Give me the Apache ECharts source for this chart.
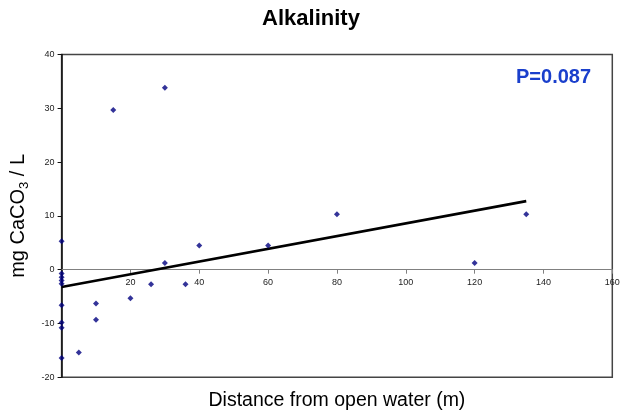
<!DOCTYPE html>
<html>
<head>
<meta charset="utf-8">
<script src="https://cdn.jsdelivr.net/npm/echarts@6/dist/echarts.min.js"></script>
<style>html,body{margin:0;padding:0;background:#fff}#c{width:622px;height:416px}</style>
</head>
<body>
<div id="c"></div>
<script>
var distance = [0, 0, 0, 0, 0, 0, 0, 0, 0, 5, 10, 10, 15, 20, 26, 30, 30, 36, 40, 60, 80, 120, 135];
var alkalinity = [5.3, -0.7, -1.4, -2.0, -2.6, -6.6, -9.8, -10.8, -16.4, -15.4, -6.3, -9.3, 29.7, -5.3, -2.7, 1.25, 33.8, -2.7, 4.5, 4.5, 10.3, 1.25, 10.3];
var trendX = [0, 135];
var trendY = [-3.2, 12.75];
var xTicks = [0, 20, 40, 60, 80, 100, 120, 140, 160];
var yTicks = [-20, -10, 0, 10, 20, 30, 40];
var pLabel = 'P=0.087';

var font = 'Liberation Sans, Arial, sans-serif';
var chart = echarts.init(document.getElementById('c'), null, {renderer: 'canvas'});
var pts = distance.map(function (d, i) { return [d, alkalinity[i]]; });
var trend = trendX.map(function (d, i) { return [d, trendY[i]]; });
var gridTop = 54.5, gridBottom = 38.7, H = 416;
var yMin = yTicks[0], yMax = yTicks[yTicks.length - 1];
var plotH = H - gridTop - gridBottom;
var zeroOffset = plotH * (0 - yMin) / (yMax - yMin);
chart.setOption({
  animation: false,
  textStyle: {fontFamily: font},
  title: [{
    text: 'Alkalinity', left: 'center', top: 8, padding: 0,
    textStyle: {fontSize: 22, fontWeight: 'bold', color: '#000', fontFamily: font}
  }, {
    text: pLabel, left: 516, top: 67, padding: 0,
    textStyle: {fontSize: 20, fontWeight: 'bold', color: '#1a3fcc', fontFamily: font}
  }],
  grid: {left: 61.6, right: 9.7, top: gridTop, bottom: gridBottom, outerBoundsMode: 'none', containLabel: false,
    show: true, borderColor: '#444', borderWidth: 1.5, backgroundColor: '#fff'},
  xAxis: {
    type: 'value', min: xTicks[0], max: xTicks[xTicks.length - 1], interval: 20,
    position: 'bottom', offset: -zeroOffset,
    name: 'Distance from open water (m)', nameLocation: 'middle', nameGap: 121,
    nameTextStyle: {fontSize: 19.5, color: '#000', fontFamily: font},
    axisLine: {onZero: false, lineStyle: {color: '#808080', width: 1.2}},
    axisTick: {show: true, length: 4, lineStyle: {color: '#808080'}},
    axisLabel: {fontSize: 9, color: '#222', margin: 8, showMinLabel: false, fontFamily: font},
    splitLine: {show: false}
  },
  yAxis: {
    type: 'value', min: yMin, max: yMax, interval: 10,
    name: '{a|mg CaCO}{s|3}{a| / L}', nameLocation: 'middle', nameGap: 23,
    nameTextStyle: {
      fontFamily: font, color: '#000',
      rich: {
        a: {fontSize: 20, lineHeight: 24, color: '#000', fontFamily: font},
        s: {fontSize: 13, lineHeight: 13, verticalAlign: 'bottom', color: '#000', fontFamily: font}
      }
    },
    axisLine: {show: true, onZero: false, lineStyle: {color: '#111', width: 1.5}},
    axisTick: {show: true, length: 4, lineStyle: {color: '#111'}},
    axisLabel: {fontSize: 9, color: '#222', margin: 7, fontFamily: font},
    splitLine: {show: false}
  },
  series: [{
    type: 'line', data: trend, symbol: 'none', silent: true,
    lineStyle: {color: '#000', width: 2.6}, z: 2
  }, {
    type: 'scatter', data: pts, symbol: 'diamond', symbolSize: 6,
    itemStyle: {color: '#000080'}, z: 3
  }]
});
</script>
</body>
</html>
